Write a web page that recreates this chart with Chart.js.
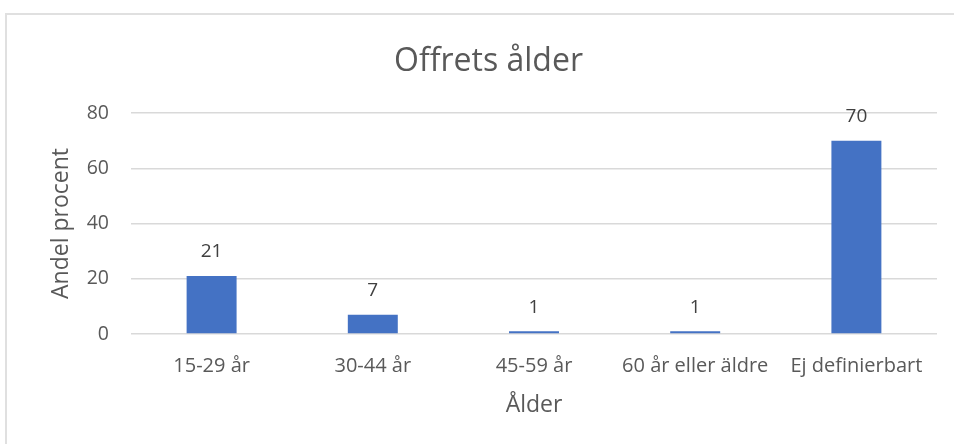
<!DOCTYPE html>
<html>
<head>
<meta charset="utf-8">
<script src="https://cdn.jsdelivr.net/npm/chart.js@4"></script>
<style>
html,body{margin:0;padding:0;background:#fff;overflow:hidden;width:954px;height:444px;}
#frame{position:absolute;left:5px;top:13px;width:1200px;height:1200px;border:2px solid #e0e0e0;box-sizing:border-box;}
#wrap{position:absolute;left:0;top:0;width:954px;height:444px;}
</style>
</head>
<body>
<div id="frame"></div>
<div id="wrap"><canvas id="c" width="954" height="444"></canvas></div>
<script>
const categories = ["15-29 år", "30-44 år", "45-59 år", "60 år eller äldre", "Ej definierbart"];
const values = [21, 7, 1, 1, 70];
const yTicks = [0, 20, 40, 60, 80];
const chartTitle = "Offrets ålder";
const xTitle = "Ålder";
const yTitle = "Andel procent";

const TEXT = '#595959';
const FONT = "'Open Sans', 'DejaVu Sans', sans-serif";

const valueLabels = {
  id: 'valueLabels',
  afterDatasetsDraw(chart) {
    const ctx = chart.ctx;
    const meta = chart.getDatasetMeta(0);
    ctx.save();
    ctx.fillStyle = '#404040';
    ctx.font = "19px " + FONT;
    ctx.textAlign = 'center';
    ctx.textBaseline = 'middle';
    meta.data.forEach((bar, i) => {
      ctx.fillText(String(values[i]), bar.x, bar.y - 24);
    });
    ctx.restore();
  }
};

new Chart(document.getElementById('c'), {
  type: 'bar',
  data: {
    labels: categories,
    datasets: [{
      data: values,
      backgroundColor: '#4472C4',
      categoryPercentage: 1.0,
      barPercentage: 0.31
    }]
  },
  options: {
    responsive: false,
    animation: false,
    layout: { padding: { left: 40, right: 17, top: 0, bottom: 0 } },
    plugins: {
      legend: { display: false },
      tooltip: { enabled: false },
      title: {
        display: true,
        text: chartTitle,
        color: TEXT,
        font: { family: FONT, size: 32, weight: 'normal' },
        padding: { top: 43, bottom: 31.6 }
      }
    },
    scales: {
      x: {
        grid: { display: false, drawTicks: false },
        border: { display: false },
        ticks: {
          color: TEXT,
          font: { family: FONT, size: 20 },
          padding: 20,
          maxRotation: 0,
          autoSkip: false
        },
        title: {
          display: true,
          text: xTitle,
          color: TEXT,
          font: { family: FONT, size: 23 },
          padding: { top: 0, bottom: 25 }
        },
        afterFit(scale) { scale.height = 110; }
      },
      y: {
        min: 0,
        max: 80,
        afterBuildTicks(scale) { scale.ticks = yTicks.map(v => ({ value: v })); },
        grid: { color: '#d9d9d9', lineWidth: 1.5, drawTicks: false },
        border: { display: false },
        ticks: {
          color: TEXT,
          font: { family: FONT, size: 19.5 },
          padding: 22
        },
        title: {
          display: true,
          text: yTitle,
          color: TEXT,
          font: { family: FONT, size: 23 },
          padding: { top: 8, bottom: 0 }
        },
        afterFit(scale) { scale.width = 91; }
      }
    }
  },
  plugins: [valueLabels]
});
</script>
</body>
</html>
